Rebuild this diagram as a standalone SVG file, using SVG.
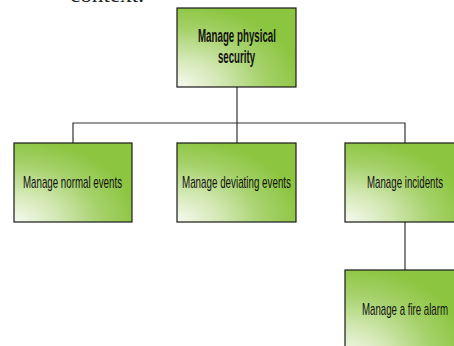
<svg xmlns="http://www.w3.org/2000/svg" width="454" height="346" viewBox="0 0 454 346">
<defs>
<radialGradient id="g" cx="0" cy="1" r="1.05" fx="0" fy="1">
<stop offset="0" stop-color="#f7f9f0"/>
<stop offset="0.35" stop-color="#d3e8b4"/>
<stop offset="0.7" stop-color="#a5d16a"/>
<stop offset="1" stop-color="#8cc540"/>
</radialGradient>
<style>
.box{fill:url(#g);stroke:#1a1a1a;stroke-width:1.2}
.t{font-family:"Liberation Sans",Arial,sans-serif;font-size:17px;fill:#111}
.b{font-weight:bold;font-size:18px}
.c{fill:none;stroke:#333;stroke-width:1.2}
</style>
</defs>
<text x="70" y="2" style="font-family:'Liberation Serif',serif;font-size:20px;fill:#222" textLength="74" lengthAdjust="spacingAndGlyphs">context.</text>
<g id="connectors">
<path class="c" d="M237 87V143M73 143V123H405V143M405 222V270"/>
</g>
<g id="n0">
<rect class="box" x="177" y="8" width="119" height="79"/>
<text class="t b" x="198" y="42" textLength="78" lengthAdjust="spacingAndGlyphs">Manage physical</text>
<text class="t b" x="218" y="63" textLength="37" lengthAdjust="spacingAndGlyphs">security</text>
</g>
<g id="n1">
<rect class="box" x="14" y="143" width="118" height="79"/>
<text class="t" x="23" y="188" textLength="99" lengthAdjust="spacingAndGlyphs">Manage normal events</text>
</g>
<g id="n2">
<rect class="box" x="177" y="143" width="119" height="79"/>
<text class="t" x="182" y="188" textLength="109" lengthAdjust="spacingAndGlyphs">Manage deviating events</text>
</g>
<g id="n3">
<rect class="box" x="345" y="143" width="120" height="79"/>
<text class="t" x="367" y="188" textLength="76" lengthAdjust="spacingAndGlyphs">Manage incidents</text>
</g>
<g id="n4">
<rect class="box" x="345" y="270" width="120" height="90"/>
<text class="t" x="362" y="315" textLength="86" lengthAdjust="spacingAndGlyphs">Manage a fire alarm</text>
</g>
</svg>
